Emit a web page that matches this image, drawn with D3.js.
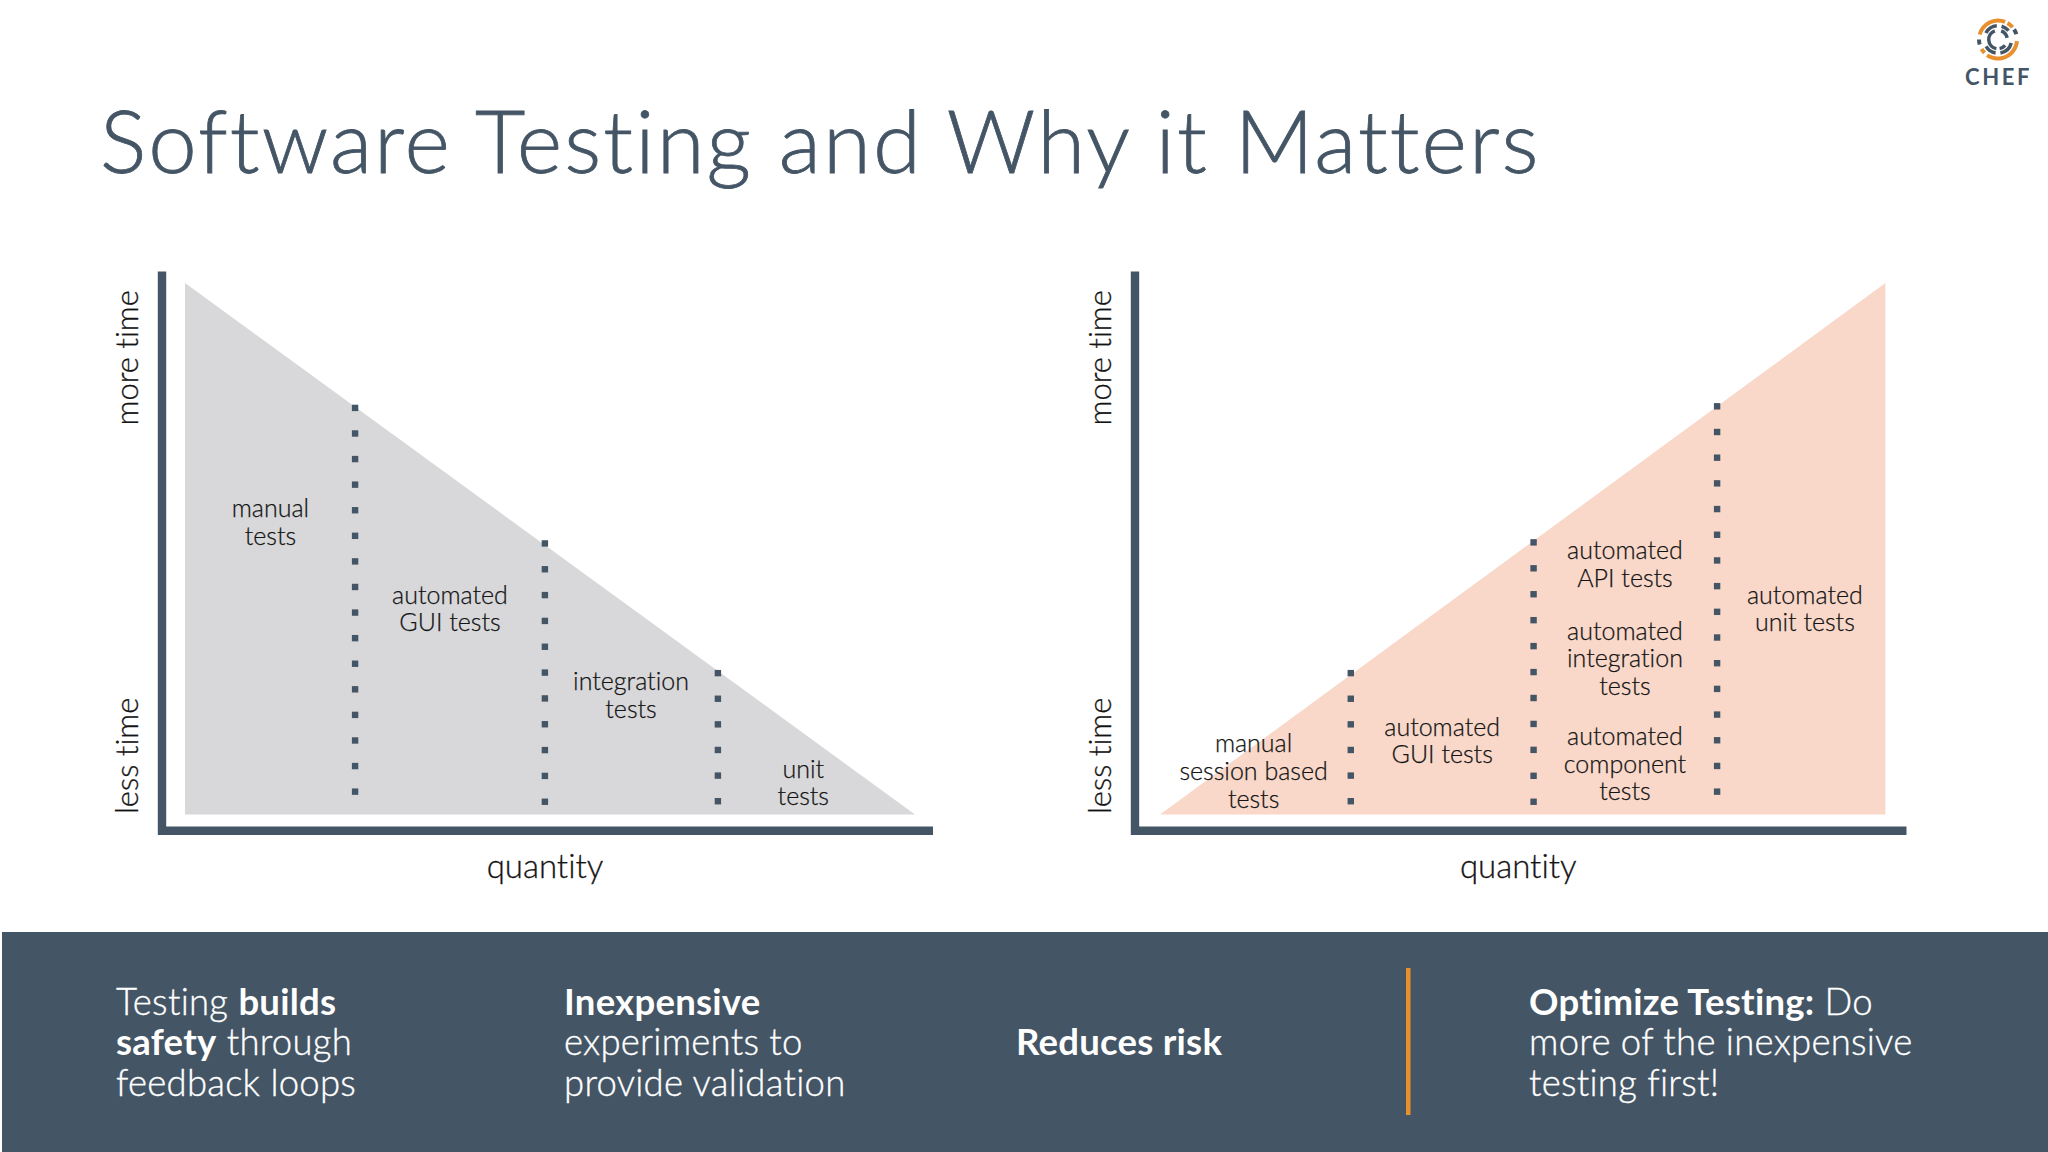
<!DOCTYPE html>
<html><head><meta charset="utf-8">
<script src="https://cdnjs.cloudflare.com/ajax/libs/d3/7.8.5/d3.min.js"></script>
<style>html,body{margin:0;padding:0;background:#fff}svg{display:block}text{font-family:Lato,"Open Sans",sans-serif;font-variant-ligatures:none}</style>
</head><body><svg id="c" width="2048" height="1152"></svg>
<script>
const titleText = "Software Testing and Why it Matters";
const xAxisLabel = "quantity";
const yAxisLabels = ["more time", "less time"];

// left chart (quantity vs time, 0-100 units)
const leftShape = [[0,100],[0,0],[100,0]];
const leftDividerX = [23.3, 49.3, 73.0];
const leftDividerTop = [76.5, 51.0, 26.6];
const leftDividerBase = [4.3, 2.4, 2.5];
const leftDividerDots = [16, 11, 6];
const leftLabels = [["manual","tests"],["automated","GUI tests"],["integration","tests"],["unit","tests"]];
const leftLabelX = [11.7, 36.3, 61.1, 84.7];
const leftLabelY = [54.8, 38.6, 22.3, 5.8];

// right chart
const rightShape = [[0,0],[100,100],[100,0]];
const rightDividerX = [26.3, 51.5, 76.8];
const rightDividerTop = [26.6, 51.2, 76.8];
const rightDividerBase = [2.5, 2.4, 4.3];
const rightDividerDots = [6, 11, 16];
const rightLabels = [["manual","session based","tests"],["automated","GUI tests"],["automated","API tests"],["automated","integration","tests"],["automated","component","tests"],["automated","unit tests"]];
const rightLabelX = [12.9, 38.9, 64.1, 64.1, 64.1, 88.9];
const rightLabelY = [8.0, 13.7, 46.9, 29.2, 9.4, 38.6];

// footer
const footerColumns = [
  [[["Testing ",0],["builds",1]],[["safety",1],[" through",0]],[["feedback loops",0]]],
  [[["Inexpensive",1]],[["experiments to",0]],[["provide validation",0]]],
  [[["Reduces risk",1]]],
  [[["Optimize Testing:",1],[" Do",0]],[["more of the inexpensive",0]],[["testing first!",0]]]
];

const DARK = "#445565", ORANGE = "#e88f2e", INK = "#141414";
const svg = d3.select("#c");
svg.append("rect").attr("width",2048).attr("height",1152).attr("fill","#fff");

svg.append("text").attr("x",100).attr("y",172.5).attr("font-size",87).attr("font-weight",300)
   .attr("letter-spacing",2.1).attr("stroke",DARK).attr("stroke-width",0.8)
   .attr("fill",DARK).text(titleText);

function chart(cfg){
  const x = d3.scaleLinear().domain([0,100]).range(cfg.xr);
  const y = d3.scaleLinear().domain([0,100]).range([814.5,283]);
  const g = svg.append("g");
  g.append("path").attr("fill",cfg.fill)
   .attr("d", d3.line().x(d=>x(d[0])).y(d=>y(d[1])).curve(d3.curveLinearClosed)(cfg.shape));
  // axes
  const yAx = d3.scaleLinear().domain([y.invert(834.5),y.invert(271)]).range([834.5,271]);
  const xAx = d3.scaleLinear().domain([x.invert(cfg.axisX-4),x.invert(cfg.axisEnd)]).range([cfg.axisX-4,cfg.axisEnd]);
  g.append("g").attr("transform",`translate(${cfg.axisX},0)`).call(d3.axisLeft(yAx).tickValues([]).tickSizeOuter(0));
  g.append("g").attr("transform","translate(0,830.3)").call(d3.axisBottom(xAx).tickValues([]).tickSizeOuter(0));
  g.selectAll(".domain").attr("stroke",DARK).attr("stroke-width",8.4).attr("fill","none");
  // dotted dividers
  cfg.dx.forEach((v,i)=>{
    const pts = d3.range(cfg.dn[i]).map(k=>cfg.db[i]+(cfg.dt[i]-cfg.db[i])*k/(cfg.dn[i]-1));
    g.append("g").selectAll("rect").data(pts).join("rect")
      .attr("x",x(v)-3.2).attr("y",d=>y(d)-3.2).attr("width",6.4).attr("height",6.4).attr("fill",DARK);
  });
  // labels
  cfg.labels.forEach((lines,i)=>{
    const lh = 27.6, cy = y(cfg.ly[i]);
    lines.forEach((s,j)=>{
      g.append("text").attr("x",x(cfg.lx[i])).attr("y",cy+(j-(lines.length-1)/2)*lh+8)
       .attr("text-anchor","middle").attr("font-size",25).attr("font-weight",300)
       .attr("stroke",INK).attr("stroke-width",0.25).attr("fill",INK).text(s);
    });
  });
  // axis titles
  g.append("text").attr("x",(cfg.axisX-4+cfg.axisEnd)/2).attr("y",878).attr("text-anchor","middle")
    .attr("font-size",33).attr("font-weight",300).attr("stroke",INK).attr("stroke-width",0.3).attr("fill",INK).text(xAxisLabel);
  [[290,"end"],[814,"start"]].forEach(([py,anc],i)=>{
    g.append("text").attr("transform",`translate(${cfg.axisX-23.5},${py}) rotate(-90)`).attr("text-anchor",anc)
     .attr("font-size",31).attr("font-weight",300).attr("stroke",INK).attr("stroke-width",0.3).attr("fill",INK).text(yAxisLabels[i]);
  });
}
chart({xr:[185,915],shape:leftShape,fill:"#d8d8da",axisX:161.5,axisEnd:932.5,dx:leftDividerX,dt:leftDividerTop,db:leftDividerBase,dn:leftDividerDots,labels:leftLabels,lx:leftLabelX,ly:leftLabelY});
chart({xr:[1160,1885.4],shape:rightShape,fill:"#f9d8ca",axisX:1134.5,axisEnd:1906,dx:rightDividerX,dt:rightDividerTop,db:rightDividerBase,dn:rightDividerDots,labels:rightLabels,lx:rightLabelX,ly:rightLabelY});

// footer band
svg.append("rect").attr("x",2).attr("y",932).attr("width",2046).attr("height",220).attr("fill",DARK);
svg.append("rect").attr("x",1406).attr("y",968).attr("width",4.5).attr("height",147).attr("fill",ORANGE);
const colX = [116, 564, 1016, 1529];
const colY = [[1014.5,1055,1095.5],[1014.5,1055,1095.5],[1055],[1014.5,1055,1095.5]];
footerColumns.forEach((col,c)=>{
  col.forEach((ln,l)=>{
    const t = svg.append("text").attr("x",colX[c]).attr("y",colY[c][l]).attr("font-size",36.5).attr("letter-spacing",0.25).attr("fill","#fff");
    ln.forEach(([s,b])=>t.append("tspan").attr("font-weight",b?700:300).attr("stroke",b?"none":"#fff").attr("stroke-width",0.35).text(s));
  });
});

// logo
const logo = svg.append("g").attr("transform","translate(1998,39.5)");
const arc = d3.arc();
const logoArcs = [
  [17,21,-75,22,ORANGE],[17,21,30,50,ORANGE],[17,21,95,215,ORANGE],[17,21,225,240,ORANGE],
  [17,21,58,74,DARK],[17,21,255,270,DARK],
  [12,15.5,-62,-5,DARK],[12,15.5,15,50,DARK],[12,15.5,105,170,DARK],[12,15.5,190,240,DARK],
  [7.5,11,190,340,DARK],[7.5,11,20,80,DARK],[7.5,11,130,170,DARK]
];
logo.selectAll("path").data(logoArcs).join("path")
  .attr("d",d=>arc({innerRadius:d[0],outerRadius:d[1],startAngle:d[2]*Math.PI/180,endAngle:d[3]*Math.PI/180}))
  .attr("fill",d=>d[4]);
svg.append("text").attr("x",1965).attr("y",84.5).attr("font-size",22).attr("font-weight",700).attr("letter-spacing",2.6).attr("fill",DARK).text("CHEF");
</script></body></html>
